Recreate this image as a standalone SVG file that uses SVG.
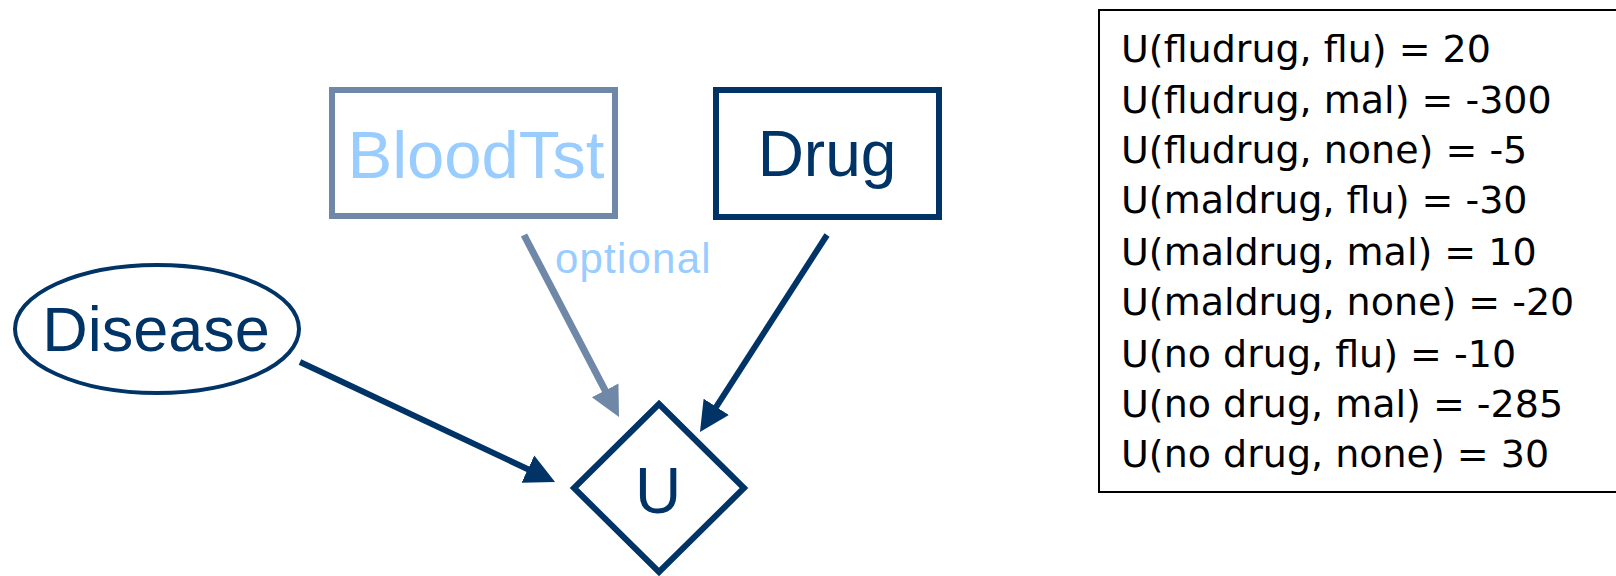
<svg xmlns="http://www.w3.org/2000/svg" width="1616" height="576" viewBox="0 0 1616 576">
  <style>
    .node { fill: #ffffff; stroke: #003366; }
    .lbl { font-family: "Liberation Sans", Arial, sans-serif; fill: #003366; text-anchor: middle; }
    .conn { stroke: #003366; stroke-width: 6; fill: none; }
    .opt { stroke: #7088a8; stroke-width: 7; fill: none; }
    .tbl { font-family: "DejaVu Sans", sans-serif; font-size: 38px; fill: #000000; }
  </style>
  <defs>
    <marker id="ah" markerUnits="userSpaceOnUse" markerWidth="32" markerHeight="32" viewBox="0 -16 32 32" refX="20" refY="0" orient="auto">
      <path d="M0,-15 L30,0 L0,15 z" fill="#003366"/>
    </marker>
    <marker id="ahOpt" markerUnits="userSpaceOnUse" markerWidth="32" markerHeight="32" viewBox="0 -16 32 32" refX="20" refY="0" orient="auto">
      <path d="M0,-15 L30,0 L0,15 z" fill="#7088a8"/>
    </marker>
  </defs>
  <rect width="1616" height="576" fill="#ffffff"/>

  <g id="connectors">
    <line class="opt" x1="524" y1="235" x2="614.4" y2="408.1" marker-end="url(#ahOpt)"/>
    <line class="conn" x1="827" y1="235" x2="705.4" y2="423.6" marker-end="url(#ah)"/>
    <line class="conn" x1="300" y1="362" x2="546" y2="477.7" marker-end="url(#ah)"/>
    <text x="555" y="273" font-family="Liberation Sans, Arial, sans-serif" font-size="42" letter-spacing="1.2" fill="#99ccff">optional</text>
  </g>

  <g id="node-bloodtst">
    <rect x="332" y="90" width="283" height="126" fill="#ffffff" stroke="#7088a8" stroke-width="6"/>
    <text class="lbl" x="476" y="178" font-size="67" style="fill:#99ccff">BloodTst</text>
  </g>

  <g id="node-drug">
    <rect class="node" x="716" y="90" width="223" height="127" stroke-width="6"/>
    <text class="lbl" x="827" y="176" font-size="64">Drug</text>
  </g>

  <g id="node-disease">
    <ellipse class="node" cx="157" cy="329" rx="142" ry="64" stroke-width="4"/>
    <text class="lbl" x="156" y="351" font-size="63">Disease</text>
  </g>

  <g id="node-u">
    <polygon class="node" points="659,404 744,488 659,572 574,488" stroke-width="6"/>
    <text class="lbl" x="658" y="513" font-size="64">U</text>
  </g>

  <g id="node-table">
    <rect x="1099" y="10" width="518" height="482" fill="#ffffff" stroke="#000000" stroke-width="2"/>
    <text class="tbl" x="1121" y="62">U(fludrug, flu) = 20</text>
    <text class="tbl" x="1121" y="113">U(fludrug, mal) = -300</text>
    <text class="tbl" x="1121" y="163">U(fludrug, none) = -5</text>
    <text class="tbl" x="1121" y="213">U(maldrug, flu) = -30</text>
    <text class="tbl" x="1121" y="265">U(maldrug, mal) = 10</text>
    <text class="tbl" x="1121" y="315">U(maldrug, none) = -20</text>
    <text class="tbl" x="1121" y="367">U(no drug, flu) = -10</text>
    <text class="tbl" x="1121" y="417">U(no drug, mal) = -285</text>
    <text class="tbl" x="1121" y="467">U(no drug, none) = 30</text>
  </g>
</svg>
